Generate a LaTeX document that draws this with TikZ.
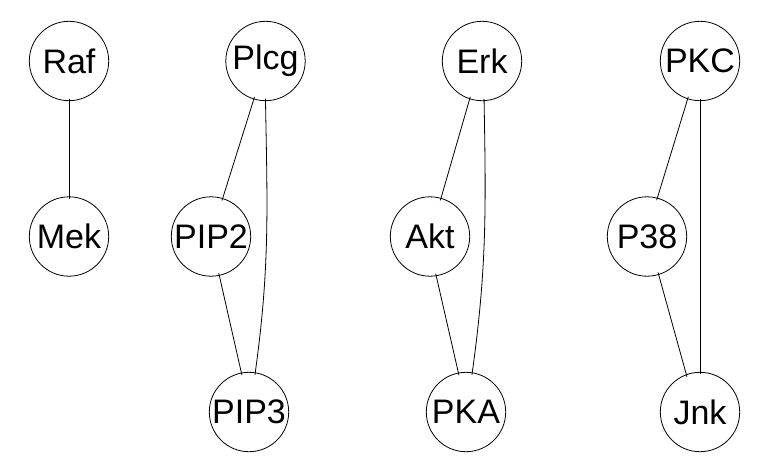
\documentclass[tikz,border=0pt]{standalone}
\usepackage{fontspec}
\setmainfont{Liberation Sans}
\begin{document}
\begin{tikzpicture}[x=1pt,y=-1pt,
  vnode/.style={circle,draw,line width=0.8pt,minimum size=79.4pt,inner sep=0pt,font=\fontsize{34}{40}\selectfont},
  edge/.style={line width=0.8pt,shorten <=-2.5pt,shorten >=-2.5pt}]
\useasboundingbox (0,0) rectangle (770,475);
\node[vnode] (raf) at (69,61) {Raf};
\node[vnode] (mek) at (69,236.5) {Mek};
\node[vnode] (plcg) at (265.5,61) {Plcg};
\node[vnode] (pip2) at (211,236.5) {PIP2};
\node[vnode] (pip3) at (249,412) {PIP3};
\node[vnode] (erk) at (482,61) {Erk};
\node[vnode] (akt) at (430,236.5) {Akt};
\node[vnode] (pka) at (466,412) {PKA};
\node[vnode] (pkc) at (700,61) {PKC};
\node[vnode] (p38) at (647,236.5) {P38};
\node[vnode] (jnk) at (700,412) {Jnk};
\draw[edge] (raf.-90) -- (mek.90);
\draw[edge] (plcg.-107) -- (pip2.73);
\draw[edge] (plcg.-90) to[out=-89,in=82] (pip3.81);
\draw[edge] (pip2.-78) -- (pip3.101);
\draw[edge] (erk.-108) -- (akt.74.5);
\draw[edge] (erk.-87) to[out=-89,in=82] (pka.81.5);
\draw[edge] (akt.-81) -- (pka.101.5);
\draw[edge] (pkc.-108) -- (p38.75);
\draw[edge] (pkc.-90) -- (jnk.90);
\draw[edge] (p38.-73.5) -- (jnk.110);
\end{tikzpicture}
\end{document}
